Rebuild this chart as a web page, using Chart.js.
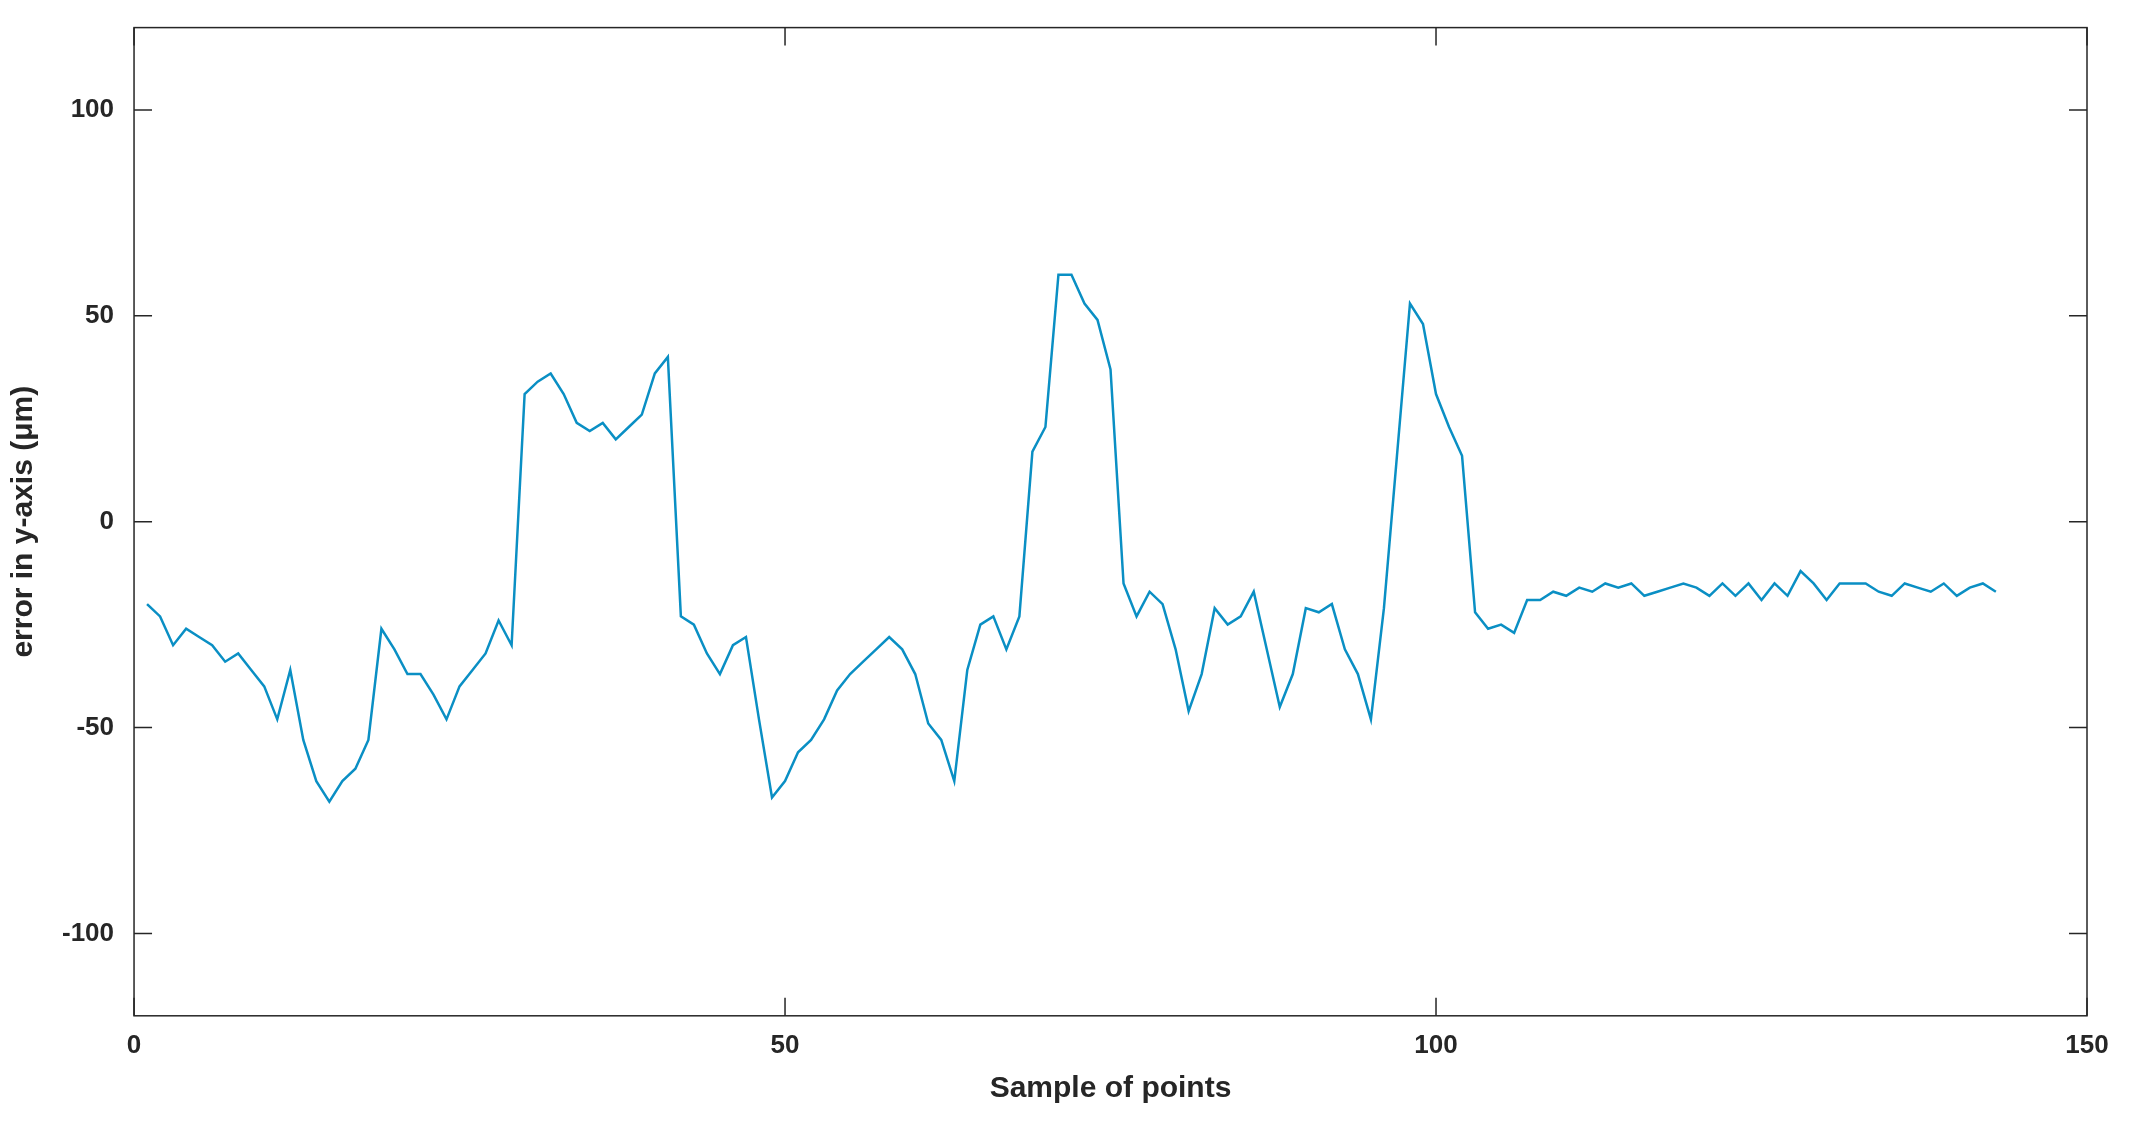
<!DOCTYPE html>
<html>
<head>
<meta charset="utf-8">
<script src="https://cdn.jsdelivr.net/npm/chart.js@4.4.0/dist/chart.umd.min.js"></script>
<style>
  html, body { margin: 0; padding: 0; background: #fff; }
  #wrap { width: 2135px; height: 1131px; }
</style>
</head>
<body>
<div id="wrap"><canvas id="errChart"></canvas></div>
<script>
// sample values
const errorValues = [
  -20, -23, -30, -26, -28, -30, -34, -32, -36, -40,
  -48, -36, -53, -63, -68, -63, -60, -53, -26, -31,
  -37, -37, -42, -48, -40, -36, -32, -24, -30, 31,
  34, 36, 31, 24, 22, 24, 20, 23, 26, 36,
  40, -23, -25, -32, -37, -30, -28, -48, -67, -63,
  -56, -53, -48, -41, -37, -34, -31, -28, -31, -37,
  -49, -53, -63, -36, -25, -23, -31, -23, 17, 23,
  60, 60, 53, 49, 37, -15, -23, -17, -20, -31,
  -46, -37, -21, -25, -23, -17, -31, -45, -37, -21,
  -22, -20, -31, -37, -48, -21, 16, 53, 48, 31,
  23, 16, -22, -26, -25, -27, -19, -19, -17, -18,
  -16, -17, -15, -16, -15, -18, -17, -16, -15, -16,
  -18, -15, -18, -15, -19, -15, -18, -12, -15, -19,
  -15, -15, -15, -17, -18, -15, -16, -17, -15, -18,
  -16, -15, -17
];
const sampleIndex = errorValues.map((v, i) => i + 1);
const xTicks = [0, 50, 100, 150];
const yTicks = [-100, -50, 0, 50, 100];

const points = sampleIndex.map((x, i) => ({ x: x, y: errorValues[i] }));

// box around plot with inward ticks, MATLAB style
const boxPlugin = {
    id: 'box',
    afterDraw(chart) {
        const ctx = chart.ctx;
        const a = chart.chartArea;
        const xs = chart.scales.x, ys = chart.scales.y;
        ctx.save();
        ctx.strokeStyle = '#262626';
        ctx.lineWidth = 1.5;
        ctx.strokeRect(a.left, a.top, a.right - a.left, a.bottom - a.top);
        ctx.beginPath();
        xTicks.forEach(t => {
            const px = xs.getPixelForValue(t);
            ctx.moveTo(px, a.bottom); ctx.lineTo(px, a.bottom - 18);
            ctx.moveTo(px, a.top); ctx.lineTo(px, a.top + 18);
        });
        yTicks.forEach(t => {
            const py = ys.getPixelForValue(t);
            ctx.moveTo(a.left, py); ctx.lineTo(a.left + 18, py);
            ctx.moveTo(a.right, py); ctx.lineTo(a.right - 18, py);
        });
        ctx.stroke();
        ctx.restore();
    }
};

const tickFont = { family: 'Liberation Sans', size: 26, weight: 'bold' };

new Chart(document.getElementById('errChart'), {
    type: 'line',
    data: {
        datasets: [{
            data: points,
            borderColor: '#0a8fc4',
            borderWidth: 2.5,
            pointRadius: 0,
            tension: 0,
            fill: false
        }]
    },
    options: {
        responsive: true,
        maintainAspectRatio: false,
        animation: false,
        layout: { padding: { top: 27, right: 48, left: 2, bottom: 20 } },
        plugins: { legend: { display: false }, tooltip: { enabled: false } },
        scales: {
            x: {
                type: 'linear',
                min: 0, max: 150,
                afterBuildTicks: s => { s.ticks = xTicks.map(v => ({ value: v })); },
                ticks: { font: tickFont, color: '#262626', padding: 6 },
                grid: { display: false },
                border: { display: false },
                title: { display: true, text: 'Sample of points', font: { family: 'Liberation Sans', size: 30, weight: 'bold' }, color: '#262626', padding: { top: 4 } }
            },
            y: {
                min: -120, max: 120,
                afterBuildTicks: s => { s.ticks = yTicks.map(v => ({ value: v })); },
                ticks: { font: tickFont, color: '#262626', padding: 12 },
                grid: { display: false },
                border: { display: false },
                title: { display: true, text: 'error in y-axis (μm)', font: { family: 'Liberation Sans', size: 30, weight: 'bold' }, color: '#262626', padding: { bottom: 8 } }
            }
        }
    },
    plugins: [boxPlugin]
});
</script>
</body>
</html>
